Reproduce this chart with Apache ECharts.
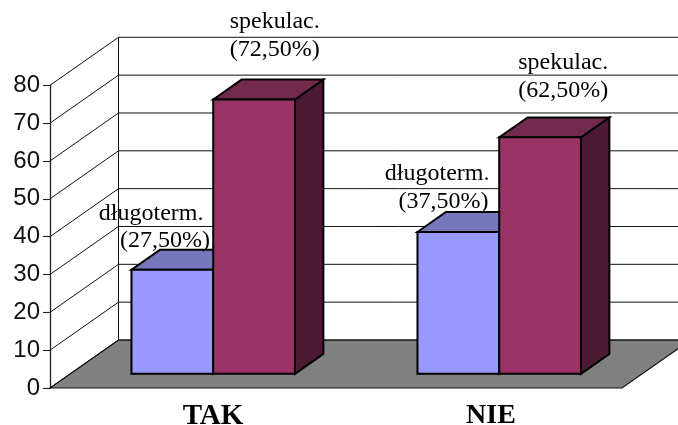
<!DOCTYPE html>
<html>
<head>
<meta charset="utf-8">
<style>html,body{margin:0;padding:0;background:#fff}#chart{width:678px;height:425px}</style>
<script src="https://cdn.jsdelivr.net/npm/echarts@6/dist/echarts.min.js"></script>
</head>
<body>
<div id="chart"></div>
<script>
// Chart values
const categories = ['TAK', 'NIE'];
const longTermName = 'długoterm.';
const speculativeName = 'spekulac.';
const longTermValues = [27.5, 37.5];
const speculativeValues = [72.5, 62.5];
const valueTicks = [0, 10, 20, 30, 40, 50, 60, 70, 80];

// Oblique projection: the floor recedes by this many pixels
const DEPTH_X = 68.5, DEPTH_Y = -48;
const BAR_FRONT = 0.295, BAR_BACK = 0.71;
const BAR_WIDTH_RATIO = 0.2858;
const LABEL_LINE_GAP = 27.5;

// Label line placement relative to the top-left corner of a bar's front face
const longTermLabelLayout = [
  { nameRight: 72, valueRight: 78.5, up: 56.5 },
  { nameRight: 72, valueRight: 71, up: 58 }
];
const speculativeLabelLayout = [
  { nameRight: 106.5, valueRight: 106.5, up: 77.5 },
  { nameRight: 109, valueRight: 109, up: 74.5 }
];

const serif = '"Liberation Serif","Times New Roman",serif';
const labelFont = '24px ' + serif;

function barFaces(api, seriesIndex, colors) {
  const cat = api.value(0), val = api.value(1);
  const catWidth = api.size([1, 0])[0];
  const w = catWidth * BAR_WIDTH_RATIO;
  const base = api.coord([cat, 0]);
  const top = api.coord([cat, val]);
  const fx = base[0] + (seriesIndex === 0 ? -w : 0) + DEPTH_X * BAR_FRONT;
  const fy0 = base[1] + DEPTH_Y * BAR_FRONT;
  const fy1 = top[1] + DEPTH_Y * BAR_FRONT;
  const dx = DEPTH_X * (BAR_BACK - BAR_FRONT), dy = DEPTH_Y * (BAR_BACK - BAR_FRONT);
  const stroke = { stroke: '#000', lineWidth: 2, lineJoin: 'miter' };
  return {
    left: fx, top: fy1,
    faces: [
      { type: 'polygon', shape: { points: [[fx + w, fy0], [fx + w + dx, fy0 + dy], [fx + w + dx, fy1 + dy], [fx + w, fy1]] },
        style: Object.assign({ fill: colors.side }, stroke) },
      { type: 'polygon', shape: { points: [[fx, fy1], [fx + dx, fy1 + dy], [fx + w + dx, fy1 + dy], [fx + w, fy1]] },
        style: Object.assign({ fill: colors.top }, stroke) },
      { type: 'rect', shape: { x: fx, y: fy1, width: w, height: fy0 - fy1 },
        style: Object.assign({ fill: colors.front }, stroke) }
    ]
  };
}

function percentText(v) {
  return '(' + v.toFixed(2).replace('.', ',') + '%)';
}

function barSeries(name, values, colors, seriesIndex, layout) {
  return {
    type: 'custom',
    name: name,
    coordinateSystem: 'cartesian2d',
    silent: true,
    z: 5 + seriesIndex,
    data: values.map((v, i) => [i, v]),
    renderItem(params, api) {
      const bar = barFaces(api, seriesIndex, colors);
      const idx = api.value(0);
      const up = layout[idx].up;
      const textLine = (text, right, dy) => ({
        type: 'text',
        z2: 20,
        style: {
          text: text, x: bar.left + right, y: bar.top - dy,
          font: labelFont, fill: '#000', textAlign: 'right', textVerticalAlign: 'middle'
        }
      });
      return {
        type: 'group',
        children: bar.faces.concat([
          textLine(name, layout[idx].nameRight, up),
          textLine(percentText(api.value(1)), layout[idx].valueRight, up - LABEL_LINE_GAP)
        ])
      };
    }
  };
}

const chart = echarts.init(document.getElementById('chart'), null, { renderer: 'canvas' });
chart.setOption({
  animation: false,
  backgroundColor: '#fff',
  grid: { left: 50, right: 56, top: 85.3, bottom: 37, outerBoundsMode: 'none' },
  xAxis: {
    type: 'category',
    data: categories,
    axisLine: { show: false },
    axisTick: { show: false },
    axisLabel: {
      margin: 14,
      interval: 0,
      formatter: v => '{' + v + '|' + v + '}',
      rich: {
        TAK: { fontFamily: serif, fontWeight: 'bold', fontSize: 29, color: '#000', padding: [0, 0, 0, 40] },
        NIE: { fontFamily: serif, fontWeight: 'bold', fontSize: 28, color: '#000', padding: [0, 0, 0, 24] }
      }
    }
  },
  yAxis: {
    type: 'value',
    min: 0,
    max: 80,
    interval: 10,
    splitLine: { show: false },
    axisLine: { show: true, lineStyle: { color: '#222', width: 1.3 } },
    axisTick: { show: true, length: 7, lineStyle: { color: '#222', width: 1.1 } },
    axisLabel: { margin: 10, color: '#111', fontFamily: '"Liberation Sans",Arial,sans-serif', fontSize: 24 }
  },
  series: [
    {
      // Floor plane
      type: 'custom',
      name: 'floor',
      coordinateSystem: 'cartesian2d',
      silent: true,
      z: 1,
      data: [[0, 0]],
      renderItem(params, api) {
        const cs = params.coordSys;
        const y = api.coord([0, api.value(1)])[1];
        const x0 = cs.x, x1 = cs.x + cs.width;
        return {
          type: 'polygon',
          shape: { points: [[x0, y], [x1, y], [x1 + DEPTH_X, y + DEPTH_Y], [x0 + DEPTH_X, y + DEPTH_Y]] },
          style: { fill: '#808080', stroke: '#111', lineWidth: 1.1 }
        };
      }
    },
    {
      // Side and back wall gridlines, one per value tick
      type: 'custom',
      name: 'walls',
      coordinateSystem: 'cartesian2d',
      silent: true,
      z: 2,
      data: valueTicks.map(v => [0, v]),
      renderItem(params, api) {
        const cs = params.coordSys;
        const v = api.value(1);
        const y = api.coord([0, v])[1];
        const x0 = cs.x, bx = x0 + DEPTH_X, by = y + DEPTH_Y;
        const lineStyle = { stroke: '#111', lineWidth: 1, fill: null };
        const children = [
          { type: 'line', shape: { x1: x0, y1: y, x2: bx, y2: by }, style: lineStyle },
          { type: 'line', shape: { x1: bx, y1: by, x2: cs.x + cs.width + DEPTH_X, y2: by }, style: lineStyle }
        ];
        if (v === valueTicks[valueTicks.length - 1]) {
          const floorY = api.coord([0, 0])[1] + DEPTH_Y;
          children.push({ type: 'line', shape: { x1: bx, y1: by, x2: bx, y2: floorY }, style: lineStyle });
        }
        return { type: 'group', children: children };
      }
    },
    barSeries(longTermName, longTermValues, { front: '#9999FF', top: '#7777BB', side: '#5C5C99' }, 0, longTermLabelLayout),
    barSeries(speculativeName, speculativeValues, { front: '#993366', top: '#732B4D', side: '#4D1A33' }, 1, speculativeLabelLayout)
  ]
});
</script>
</body>
</html>
